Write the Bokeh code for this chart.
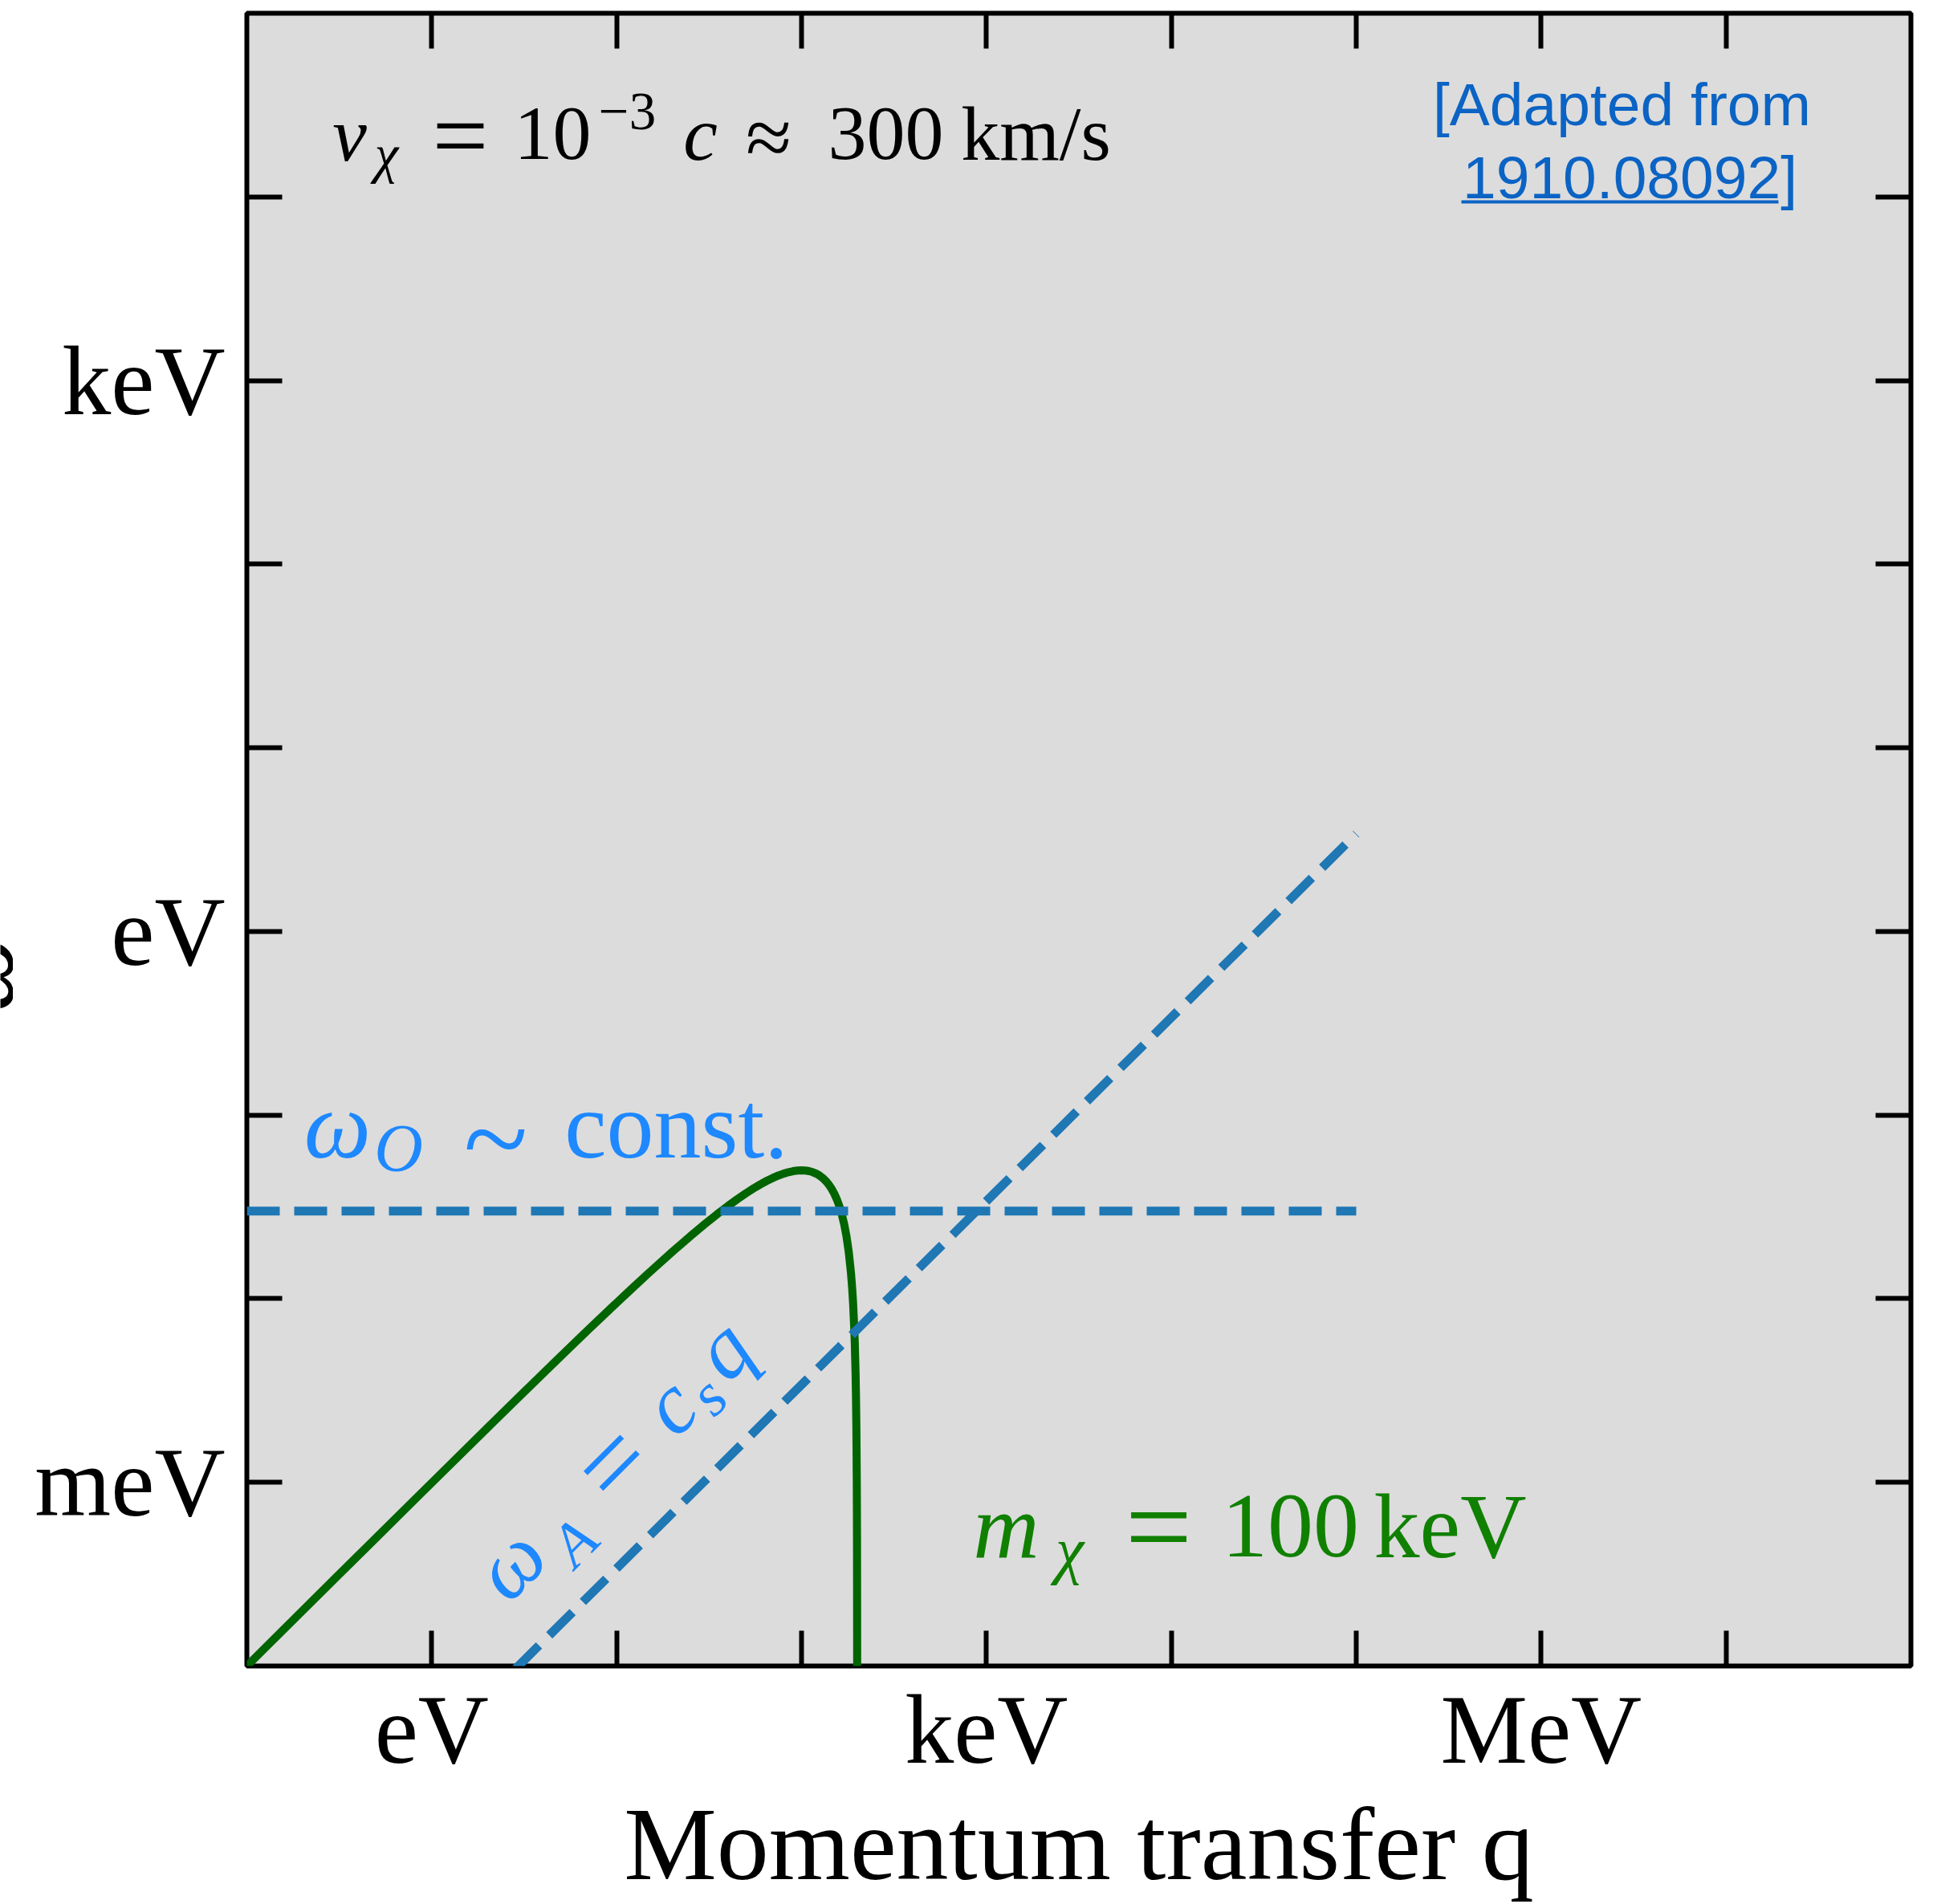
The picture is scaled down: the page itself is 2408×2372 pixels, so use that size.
import math
from bokeh.plotting import figure
from bokeh.layouts import row
from bokeh.models import Label, FixedTicker, LogAxis, BoxAnnotation, Range1d
from bokeh.embed import file_html
from bokeh.resources import INLINE

# ---------------- data (eV) ----------------
# recoil kinematics curve for m_chi = 100 keV, v = 1e-3
Q_GREEN = [0.1, 0.3, 0.5, 1, 2, 3, 5, 7, 10, 12, 15, 20, 25, 30, 35, 40, 45, 50,
           55, 60, 65, 70, 75, 80, 85, 90, 95, 100, 105, 110, 115, 120, 125,
           130, 135, 140, 145, 150, 155, 160, 165, 170, 175, 180, 185, 188,
           190, 193, 194, 196, 197, 198, 199, 199.3, 199.5, 199.8, 199.9, 199.97]
W_GREEN = [1.0e-4, 3.0e-4, 4.9875e-4, 9.95e-4, 1.98e-3, 2.955e-3, 4.875e-3,
           6.755e-3, 9.5e-3, 0.01128, 0.013875, 0.018, 0.021875, 0.0255,
           0.028875, 0.032, 0.034875, 0.0375, 0.039875, 0.042, 0.043875,
           0.0455, 0.046875, 0.048, 0.048875, 0.0495, 0.049875, 0.050,
           0.049875, 0.0495, 0.048875, 0.048, 0.046875, 0.0455, 0.043875,
           0.042, 0.039875, 0.0375, 0.034875, 0.032, 0.028875, 0.0255,
           0.021875, 0.018, 0.013875, 0.01128, 0.0095, 0.006755, 0.00582,
           0.00392, 0.002955, 0.00198, 0.000995, 0.00069755, 0.00049875,
           0.0001998, 0.00009995, 0.00003]
# optical phonon (flat) and acoustic phonon (linear) branches
Q_OPTICAL = [0.1, 1e5]
W_OPTICAL = [0.03, 0.03]
Q_ACOUSTIC = [0.1, 1e5]
W_ACOUSTIC = [3.4e-6, 3.4]

X_TICKS = [1, 10, 100, 1000, 10000, 100000, 1000000, 10000000]
X_TICK_LABELS = ["eV", "", "", "keV", "", "", "MeV", ""]
Y_TICKS = [0.001, 0.01, 0.1, 1, 10, 100, 1000, 10000]
Y_TICK_LABELS = ["meV", "", "", "eV", "", "", "keV", ""]

# ---------------- layout (page pixels) ----------------
LEFT_STRIP = 16                      # narrow strip holding the clipped y title
FL, FR, FT, FB = 307, 2380, 16, 2075  # plot frame on the page
XLO, XHI, YLO, YHI = -1, 8, -4, 5
PAGE_H = 2372
SERIF = "Liberation Serif"
SANS = "Liberation Sans"
BASE_SHIFT = 0.35                    # em offset between label anchor and baseline
EQ_MID = 0.28                        # height of the "=" bars' middle, in em

p = figure(x_axis_type="log", y_axis_type="log",
           x_range=(10 ** XLO, 10 ** XHI), y_range=(10 ** YLO, 10 ** YHI),
           width=(FL - LEFT_STRIP) + (FR - FL) + 8, height=PAGE_H,
           min_border_left=FL - LEFT_STRIP, min_border_top=FT,
           min_border_right=8, min_border_bottom=PAGE_H - FB,
           title=None, output_backend="svg", toolbar_location=None)

p.background_fill_color = "#dcdcdc"
p.border_fill_color = "white"
p.outline_line_color = "black"
p.outline_line_width = 6
p.xgrid.visible = False
p.ygrid.visible = False


def style_axis(ax, ticks, labels, standoff, size):
    ax.ticker = FixedTicker(ticks=ticks)
    ax.major_label_overrides = {t: l for t, l in zip(ticks, labels)}
    ax.axis_line_color = None
    ax.major_tick_in = 44
    ax.major_tick_out = 0
    ax.major_tick_line_width = 6
    ax.major_tick_line_color = "black"
    ax.minor_tick_line_color = None
    ax.major_label_standoff = standoff
    ax.major_label_text_font = SERIF
    ax.major_label_text_font_size = size
    ax.major_label_text_color = "black"


style_axis(p.xaxis[0], X_TICKS, X_TICK_LABELS, 11, "122px")
style_axis(p.yaxis[0], Y_TICKS, Y_TICK_LABELS, 27, "122px")
p.xaxis[0].axis_label = "Momentum transfer q"
p.xaxis[0].axis_label_text_font = SERIF
p.xaxis[0].axis_label_text_font_size = "130px"
p.xaxis[0].axis_label_text_font_style = "normal"
p.xaxis[0].axis_label_text_color = "black"
p.xaxis[0].axis_label_standoff = 0

top_ax = LogAxis()
style_axis(top_ax, X_TICKS, [""] * len(X_TICKS), 0, "0px")
p.add_layout(top_ax, "above")
right_ax = LogAxis()
style_axis(right_ax, Y_TICKS, [""] * len(Y_TICKS), 0, "0px")
p.add_layout(right_ax, "right")

# ---------------- curves ----------------
p.line(Q_GREEN, W_GREEN, line_color="#006400", line_width=10)
p.line(Q_OPTICAL, W_OPTICAL, line_color="#1f77b4", line_width=11, line_dash="41 18")
p.line(Q_ACOUSTIC, W_ACOUSTIC, line_color="#1f77b4", line_width=11, line_dash="41 18")


# ---------------- texts ----------------
def dx(px):
    return 10 ** (XLO + (px - FL) / (FR - FL) * (XHI - XLO))


def dy(py):
    return 10 ** (YLO + (FB - py) / (FB - FT) * (YHI - YLO))


def txt(s, px, py, size, color="black", style="normal", font=SERIF,
        align="center", angle=0.0):
    # (px, py) is the wanted baseline point in page pixels
    sh = BASE_SHIFT * size
    px2 = px - sh * math.sin(angle)
    py2 = py - sh * math.cos(angle)
    p.add_layout(Label(x=dx(px2), y=dy(py2), text=s, text_font=font,
                       text_font_size=f"{size}px", text_font_style=style,
                       text_color=color, text_align=align,
                       text_baseline="alphabetic", angle=angle))


# v_chi = 10^-3 c ~ 300 km/s
txt("v", 435, 201, 96, style="italic")
txt("χ", 481, 215, 67, style="italic")
txt("=", 573, 178 + EQ_MID * 124, 124)
txt("10", 688, 200, 96)
txt("−3", 781, 162, 67)
txt("c", 872, 200, 96, style="italic")
txt("≈", 957, 206, 104)
txt("300", 1103, 200, 96)
txt("km/s", 1290, 200, 96)

# [Adapted from 1910.08092]
REF_BLUE = "#0b63c4"
txt("[Adapted from", 2020, 156, 75, color=REF_BLUE, font=SANS)
txt("1910.08092]", 2030, 247, 75, color=REF_BLUE, font=SANS)
p.add_layout(BoxAnnotation(left=dx(1820), right=dx(2215), top=dy(249), bottom=dy(253),
                           fill_color=REF_BLUE, fill_alpha=1.0, line_color=None))

# omega_O ~ const.
LBL_BLUE = "#1e88ff"
txt("ω", 420, 1443, 118, color=LBL_BLUE, style="italic")
txt("O", 496, 1459, 84, color=LBL_BLUE, style="italic")
txt("~", 617, 1413 + 0.38 * 148, 148, color=LBL_BLUE)
txt("const.", 842, 1443, 118, color=LBL_BLUE)

# m_chi = 100 keV
LBL_GREEN = "#108000"
txt("m", 1253, 1941, 114, color=LBL_GREEN, style="italic")
txt("χ", 1332, 1958, 80, color=LBL_GREEN, style="italic")
txt("=", 1443, 1912 + EQ_MID * 148, 148, color=LBL_GREEN)
txt("100", 1607, 1941, 114, color=LBL_GREEN)
txt("keV", 1806, 1941, 114, color=LBL_GREEN)

# omega_A = c_s q  (rotated along the acoustic branch)
P0 = (644, 1990)
R2 = math.sqrt(2)
for s_txt, s_pos, n_pos, size, style in [("ω", 24, 0, 108, "italic"),
                                         ("A", 99, -27, 76, "italic"),
                                         ("=", 202, 27 - EQ_MID * 138, 138, "normal"),
                                         ("c", 303, -2, 108, "italic"),
                                         ("s", 346, -16, 76, "italic"),
                                         ("q", 400, 1, 108, "italic")]:
    bx = P0[0] + (s_pos - n_pos) / R2
    by = P0[1] - (s_pos + n_pos) / R2
    txt(s_txt, bx, by, size, color=LBL_BLUE, style=style, angle=math.pi / 4)

# ---------------- narrow strip with the (clipped) y-axis title ----------------
strip = figure(width=LEFT_STRIP, height=PAGE_H, x_range=Range1d(0, LEFT_STRIP),
               y_range=Range1d(0, PAGE_H), min_border=0, title=None,
               x_axis_location=None, y_axis_location=None,
               output_backend="svg", toolbar_location=None)
strip.grid.visible = False
strip.outline_line_color = None
strip.background_fill_color = "white"
strip.border_fill_color = "white"
YT_SIZE = 133
strip.add_layout(Label(x=17 - BASE_SHIFT * YT_SIZE, y=992, text="ω",
                       text_font=SERIF, text_font_size=f"{YT_SIZE}px",
                       text_font_style="italic", text_color="black",
                       text_align="center", text_baseline="alphabetic",
                       angle=math.pi / 2))

layout = row(strip, p, spacing=0)
open("out.html", "w").write(file_html(layout, INLINE))
